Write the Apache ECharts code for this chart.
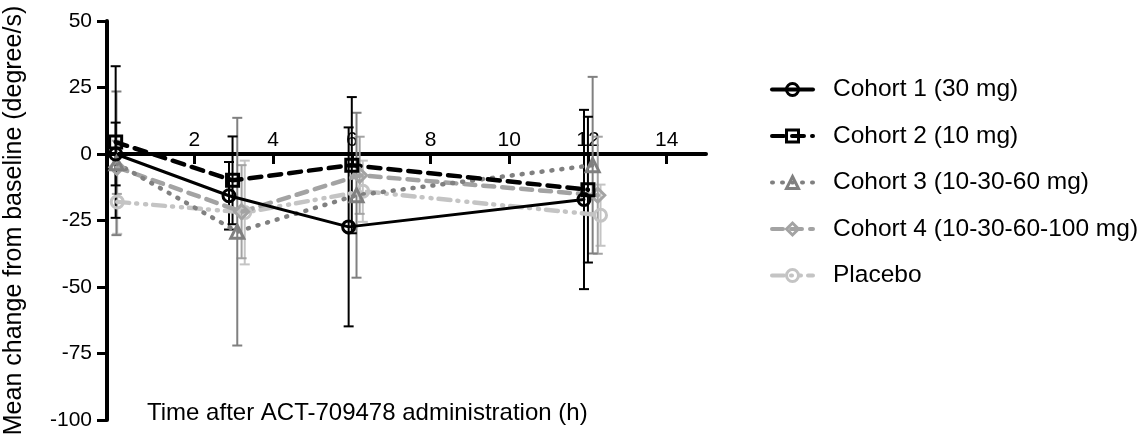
<!DOCTYPE html>
<html>
<head>
<meta charset="utf-8">
<script src="https://cdn.jsdelivr.net/npm/echarts@6/dist/echarts.min.js"></script>
<style>
html, body { margin: 0; padding: 0; background: #fff; }
#chart { width: 1148px; height: 442px; }
</style>
</head>
<body>
<div id="chart"></div>
<script>
// series names (legend order)
var names = ['Cohort 1 (30 mg)', 'Cohort 2 (10 mg)', 'Cohort 3 (10-30-60 mg)', 'Cohort 4 (10-30-60-100 mg)', 'Placebo']

// time (h, nudged as in the figure), mean change and SD
var c1Time = [0, 2.88, 5.92, 11.9]
var c1Mean = [0, -15.7, -27.4, -17.1]
var c1Sd = [11.8, 12.7, 37.4, 33.7]

var c2Time = [0, 2.97, 6.0, 12.0]
var c2Mean = [4.5, -9.9, -4.2, -13.4]
var c2Sd = [28.5, 16.5, 25.6, 27.4]

var c3Time = [0.02, 3.09, 6.12, 12.12]
var c3Mean = [-3.5, -29.2, -15.5, -4.2]
var c3Sd = [27, 42.8, 31, 33.2]

var c4Time = [0.03, 3.2, 6.2, 12.25]
var c4Mean = [-5, -21.7, -8, -15.5]
var c4Sd = [10, 17.5, 14.5, 22]

var pTime = [0.04, 3.28, 6.28, 12.32]
var pMean = [-18, -22, -14, -23]
var pSd = [12, 19.5, 11.5, 11.5]

var xTicks = [2, 4, 6, 8, 10, 12, 14]

var FONT = 'Liberation Sans, Arial, sans-serif'

var chart = echarts.init(document.getElementById('chart'))

function points(time, mean) {
  return time.map(function(t, i) { return [t, mean[i]] })
}
function bars(time, mean, sd) {
  return time.map(function(t, i) { return [t, mean[i] - sd[i], mean[i] + sd[i]] })
}

function renderErrorBar(params, api) {
  var x = api.value(0)
  var hi = api.coord([x, api.value(2)])
  var lo = api.coord([x, api.value(1)])
  var half = 5
  var style = { stroke: api.visual('color'), lineWidth: 2 }
  return {
    type: 'group',
    children: [
      { type: 'line', shape: { x1: hi[0], y1: hi[1], x2: lo[0], y2: lo[1] }, style: style },
      { type: 'line', shape: { x1: hi[0] - half, y1: hi[1], x2: hi[0] + half, y2: hi[1] }, style: style },
      { type: 'line', shape: { x1: lo[0] - half, y1: lo[1], x2: lo[0] + half, y2: lo[1] }, style: style }
    ]
  }
}

var sets = [
  { name: names[4], time: pTime, mean: pMean, sd: pSd, color: '#c4c4c4', symbol: 'circle', size: 12, dash: [12, 7, 1, 8, 1, 7] },
  { name: names[3], time: c4Time, mean: c4Mean, sd: c4Sd, color: '#a3a3a3', symbol: 'diamond', size: 14, dash: [11, 8] },
  { name: names[2], time: c3Time, mean: c3Mean, sd: c3Sd, color: '#808080', symbol: 'triangle', size: 13, dash: [1, 9] },
  { name: names[1], time: c2Time, mean: c2Mean, sd: c2Sd, color: '#000000', symbol: 'rect', size: 12, dash: [12, 8] },
  { name: names[0], time: c1Time, mean: c1Mean, sd: c1Sd, color: '#000000', symbol: 'circle', size: 12, dash: 'solid' }
]

var series = []
sets.forEach(function(s) {
  series.push({
    name: s.name + ' SD',
    type: 'custom',
    renderItem: renderErrorBar,
    itemStyle: { color: s.color },
    data: bars(s.time, s.mean, s.sd),
    encode: { x: 0, y: [1, 2] },
    z: 1,
    silent: true
  })
})
sets.forEach(function(s) {
  series.push({
    name: s.name,
    type: 'line',
    data: points(s.time, s.mean),
    symbol: s.symbol,
    symbolSize: s.size,
    showAllSymbol: true,
    lineStyle: { color: s.color, width: s.dash === 'solid' ? 3 : 4.5, type: s.dash, cap: 'round' },
    itemStyle: { color: 'rgba(255,255,255,0)', borderColor: s.color, borderWidth: 3 },
    z: 3
  })
})

chart.setOption({
  animation: false,
  backgroundColor: '#fff',
  title: {
    text: 'Time after ACT-709478 administration (h)',
    left: 142,
    top: 396,
    textStyle: { fontFamily: FONT, fontSize: 24, fontWeight: 'normal', color: '#000' }
  },
  legend: {
    orient: 'vertical',
    left: 765,
    top: 72,
    itemWidth: 41,
    itemHeight: 15,
    itemGap: 21.5,
    data: names,
    lineStyle: { width: 4 },
    itemStyle: { borderWidth: 3 },
    textStyle: { fontFamily: FONT, fontSize: 24.5, color: '#000', padding: [0, 0, 0, 15] }
  },
  grid: { left: 107, right: 442, top: 21, bottom: 22, outerBoundsMode: 'none' },
  xAxis: {
    type: 'value',
    min: -0.22,
    max: 15,
    offset: -266,
    axisLine: { onZero: false, lineStyle: { color: '#000', width: 4 } },
    axisTick: { show: true, inside: false, length: 10, customValues: xTicks, lineStyle: { color: '#000', width: 3 } },
    axisLabel: { inside: true, margin: 3, customValues: xTicks, fontFamily: FONT, fontSize: 21, color: '#000' },
    splitLine: { show: false }
  },
  yAxis: {
    type: 'value',
    min: -100,
    max: 50,
    interval: 25,
    name: 'Mean change from baseline (degree/s)',
    nameLocation: 'middle',
    nameGap: 80,
    nameTextStyle: { fontFamily: FONT, fontSize: 25, color: '#000' },
    axisLine: { show: true, onZero: false, lineStyle: { color: '#000', width: 4 } },
    axisTick: { show: true, length: 10, lineStyle: { color: '#000', width: 3 } },
    axisLabel: { margin: 15, fontFamily: FONT, fontSize: 21, color: '#000' },
    splitLine: { show: false }
  },
  series: series
})
</script>
</body>
</html>
